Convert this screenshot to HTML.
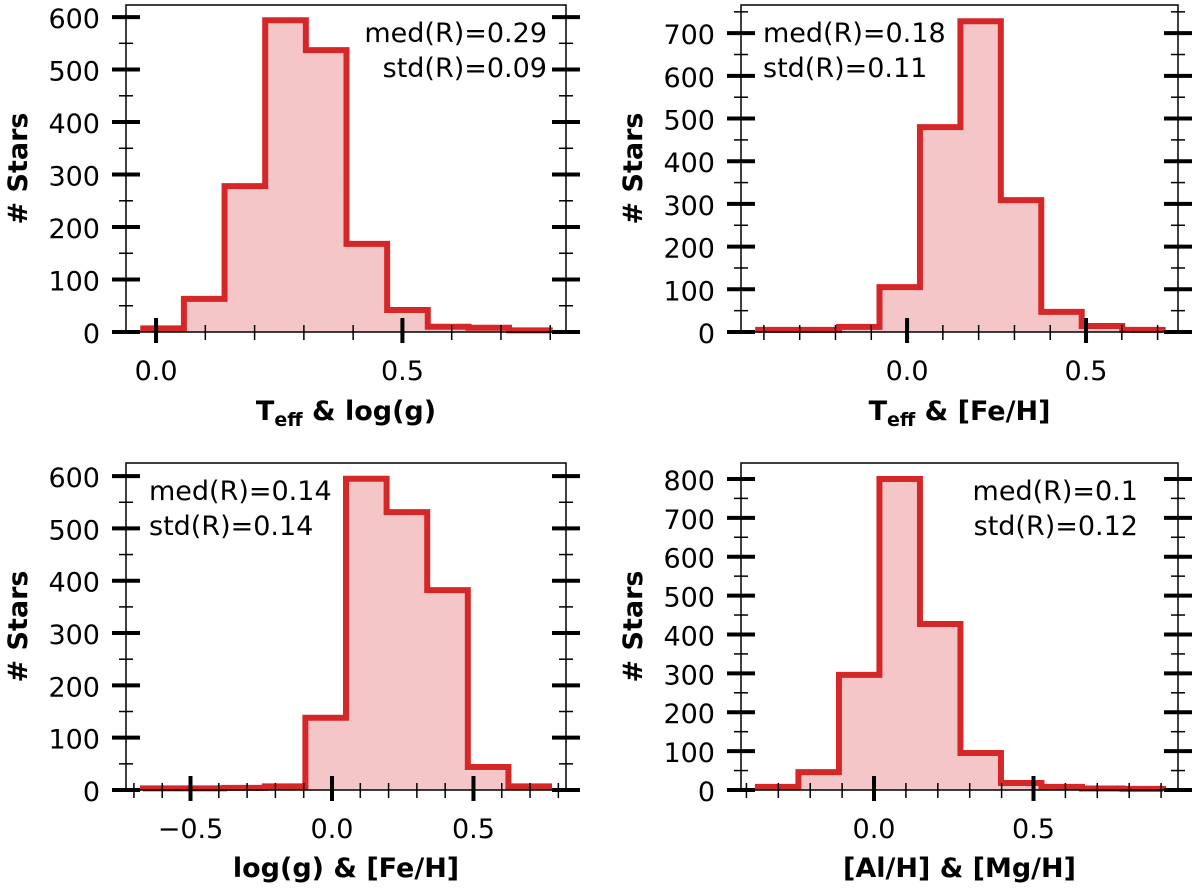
<!DOCTYPE html>
<html><head><meta charset="utf-8"><style>
body{margin:0;background:#fff;}
svg{display:block;font-family:"DejaVu Sans","Liberation Sans",sans-serif;}
</style></head><body>
<svg id="fig" width="1200" height="890" xmlns="http://www.w3.org/2000/svg"></svg>
<script>
// ---- data ----
const p1Edges0 = -0.026, p1Width = 0.0825;
const p1Counts = [7, 63, 278, 594, 537, 168, 42, 10, 8, 3];
const p2Edges0 = -0.416, p2Width = 0.113;
const p2Counts = [5, 5, 12, 105, 480, 728, 309, 47, 14, 5];
const p3Edges0 = -0.668, p3Width = 0.1435;
const p3Counts = [3, 3, 4, 7, 138, 595, 531, 382, 44, 7];
const p4Edges0 = -0.364, p4Width = 0.127;
const p4Counts = [8, 46, 296, 800, 427, 95, 18, 8, 4, 3];
const xTickLabels = ["\u22120.5", "0.0", "0.5"];
const xTickValues = [-0.5, 0, 0.5];
const annotations = [["med(R)=0.29","std(R)=0.09"],["med(R)=0.18","std(R)=0.11"],["med(R)=0.14","std(R)=0.14"],["med(R)=0.1","std(R)=0.12"]];

const panels = [
 {name:"teff-logg", L:126,R:566,T:5,B:332, xmin:-0.061,xmax:0.832,ymax:623, e0:p1Edges0,w:p1Width,c:p1Counts, ann:annotations[0], annRight:true, annOff:19, xlab:["T","eff"," & log(g)"], tickY:380, xlabY:420},
 {name:"teff-feh", L:741,R:1178,T:5,B:332, xmin:-0.464,xmax:0.757,ymax:766, e0:p2Edges0,w:p2Width,c:p2Counts, ann:annotations[1], annRight:false, annOff:22, xlab:["T","eff"," & [Fe/H]"], tickY:380, xlabY:420},
 {name:"logg-feh", L:126,R:566,T:463,B:790, xmin:-0.728,xmax:0.827,ymax:625, e0:p3Edges0,w:p3Width,c:p3Counts, ann:annotations[2], annRight:false, annOff:23, xlab:["log(g) & [Fe/H]"], tickY:838, xlabY:877},
 {name:"alh-mgh", L:741,R:1178,T:463,B:790, xmin:-0.417,xmax:0.953,ymax:841, e0:p4Edges0,w:p4Width,c:p4Counts, ann:annotations[3], annRight:true, annOff:40, xlab:["[Al/H] & [Mg/H]"], tickY:838, xlabY:877}
];
const NS="http://www.w3.org/2000/svg";
const svg=document.getElementById('fig');
function mk(tag,attrs,parent){const e=document.createElementNS(NS,tag);for(const k in attrs)e.setAttribute(k,attrs[k]);(parent||svg).appendChild(e);return e;}

panels.forEach(p=>{
 const g=mk('g',{});
 
 
 const xs=v=>p.L+(v-p.xmin)/(p.xmax-p.xmin)*(p.R-p.L);
 const ys=v=>p.B-v/p.ymax*(p.B-p.T);
 let d='M'+xs(p.e0)+','+ys(0);
 p.c.forEach((c,i)=>{const x0=xs(p.e0+i*p.w),x1=xs(p.e0+(i+1)*p.w);d+=' L'+x0+','+ys(c)+' L'+x1+','+ys(c);});
 d+=' L'+xs(p.e0+p.c.length*p.w)+','+ys(0)+' Z';
 const fill=mk('path',{d:d,fill:'#f5c6c7',stroke:'none'},g);
 
 
 let ol='M'+xs(p.e0)+','+ys(0);
 p.c.forEach((c,i)=>{const x0=xs(p.e0+i*p.w),x1=xs(p.e0+(i+1)*p.w);ol+=' L'+x0+','+ys(c)+' L'+x1+','+ys(c);});
 ol+=' L'+xs(p.e0+p.c.length*p.w)+','+ys(0);
 const line=mk('path',{d:ol,fill:'none',stroke:'#d62728','stroke-width':6,'stroke-linejoin':'miter'},g);
 
 
 const fr=mk('rect',{x:p.L,y:p.T,width:p.R-p.L,height:p.B-p.T,fill:'none',stroke:'#000','stroke-width':1.5},g);
 
 
 for(let v=0;v<=p.ymax;v+=50){
  const y=ys(v),maj=v%100===0;
  const h=maj?14:7, w=maj?4:1.5;
  mk('line',{x1:p.L-h,x2:p.L+h,y1:y,y2:y,stroke:'#000','stroke-width':w},g);
  mk('line',{x1:p.R-h,x2:p.R+h,y1:y,y2:y,stroke:'#000','stroke-width':w},g);
  if(maj){
   const t=mk('text',{x:p.L-26,y:y+11,'text-anchor':'end','font-size':27},g);
   t.textContent=v;
   
   
  }
 }
 for(let k=-10;k<=10;k++){
  const v=k/10; if(v<p.xmin||v>p.xmax)continue;
  if(k%5===0)continue;
  const x=xs(v);
  mk('line',{x1:x,x2:x,y1:p.B+8,y2:p.B-7,stroke:'#000','stroke-width':1.5},g);
 }
 xTickValues.forEach((v,i)=>{
  if(v<p.xmin||v>p.xmax)return;
  const x=xs(v);
  mk('line',{x1:x,x2:x,y1:p.B-14,y2:p.B+11,stroke:'#000','stroke-width':4},g);
  const t=mk('text',{x:x,y:p.tickY,'text-anchor':'middle','font-size':27},g);
  t.textContent=xTickLabels[i];
  
  
 });
 const ax=p.annRight?p.R-p.annOff:p.L+p.annOff, anchor=p.annRight?'end':'start';
 p.ann.forEach((s,i)=>{
  const t=mk('text',{x:ax,y:p.T+37+i*35,'text-anchor':anchor,'font-size':27},g);
  t.textContent=s;
  
  
 });
 const yt=mk('text',{x:0,y:0,'text-anchor':'middle','font-size':27,'font-weight':'bold',transform:'translate('+(p.L-99)+','+((p.T+p.B)/2)+') rotate(-90)'},g);
 yt.textContent='# Stars';
 
 
 const xt=mk('text',{x:(p.L+p.R)/2,y:p.xlabY,'text-anchor':'middle','font-size':27,'font-weight':'bold'},g);
 
 
 if(p.xlab.length===3){
  const a=mk('tspan',{},xt);a.textContent=p.xlab[0];
  const b=mk('tspan',{'font-size':19,dy:6},xt);b.textContent=p.xlab[1];
  const c=mk('tspan',{dy:-6},xt);c.textContent=p.xlab[2];
 } else xt.textContent=p.xlab[0];
});
</script>
</body></html>
